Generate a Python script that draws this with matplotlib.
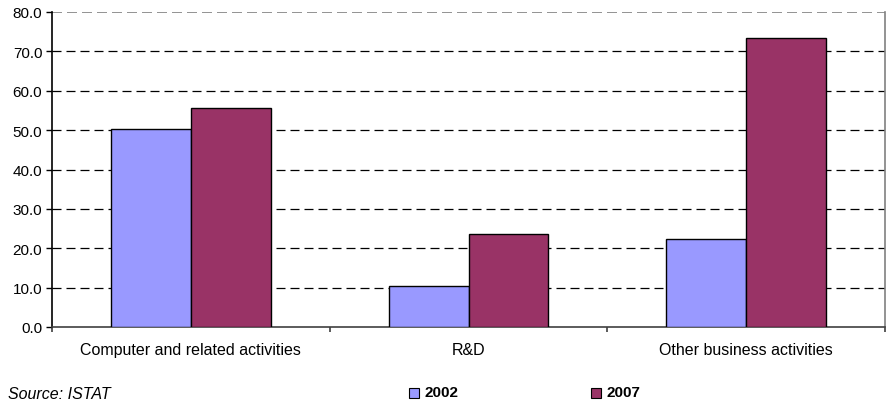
import matplotlib
matplotlib.use("Agg")
import matplotlib.pyplot as plt
import numpy as np
from matplotlib.patches import Rectangle

categories = ["Computer and related activities", "R&D", "Other business activities"]
series_names = ["2002", "2007"]
values_2002 = [50.2, 10.3, 22.3]
values_2007 = [55.7, 23.7, 73.5]
yticks = [0, 10, 20, 30, 40, 50, 60, 70, 80]

plt.rcParams['font.family'] = ['Liberation Sans', 'DejaVu Sans']

fig = plt.figure(figsize=(8.88, 4.06), dpi=100)
ax = fig.add_axes([52/888, 1-328/406, (885-52)/888, (328-13)/406])

x = np.arange(len(categories))
w = 0.288
c1 = "#9999ff"
c2 = "#993366"
ax.bar(x - w/2, values_2002, width=w, color=c1, edgecolor="black", linewidth=1.0, zorder=3)
ax.bar(x + w/2, values_2007, width=w, color=c2, edgecolor="black", linewidth=1.0, zorder=3)

ax.set_xlim(-0.5, len(categories) - 0.5)
ax.set_ylim(0, 80)
ax.set_yticks(yticks)
ax.set_yticklabels([f"{v:.1f}" for v in yticks], fontsize=11)
ax.set_xticks(x)
ax.set_xticklabels(categories, fontsize=11.5)
ax.set_xticks(np.arange(len(categories) + 1) - 0.5, minor=True)
ax.tick_params(axis='x', which='major', length=0, pad=11)
ax.tick_params(axis='x', which='minor', length=3.5, width=1.2, direction='out', color="#404040")
ax.tick_params(axis='y', length=4, width=1, direction='out', pad=3)

for v in yticks[1:-1]:
    ax.axhline(v, color="black", linestyle=(0, (7.2, 4)), linewidth=0.9, zorder=1)
ax.axhline(80, color="#808080", linestyle=(0, (6, 3)), linewidth=1.2, zorder=1)

ax.spines['left'].set_color("black")
ax.spines['left'].set_linewidth(1.2)
ax.spines['bottom'].set_color("#404040")
ax.spines['bottom'].set_linewidth(1.2)
ax.spines['top'].set_visible(False)
ax.spines['right'].set_color("#808080")
ax.spines['right'].set_linewidth(1.2)

# legend
for xpos, col, name in [(409, c1, series_names[0]), (591, c2, series_names[1])]:
    fig.patches.append(Rectangle((xpos/888, 1-399/406), 10/888, 10/406, transform=fig.transFigure,
                                 facecolor=col, edgecolor="black", linewidth=0.8))
    fig.text((xpos+15)/888, 1-393/406, name, fontsize=11, fontweight='bold', va='center', ha='left')

fig.text(8/888, 1-394.5/406, "Source: ISTAT", fontsize=11.5, fontstyle='italic', va='center', ha='left')

fig.savefig("out.png", dpi=100)
